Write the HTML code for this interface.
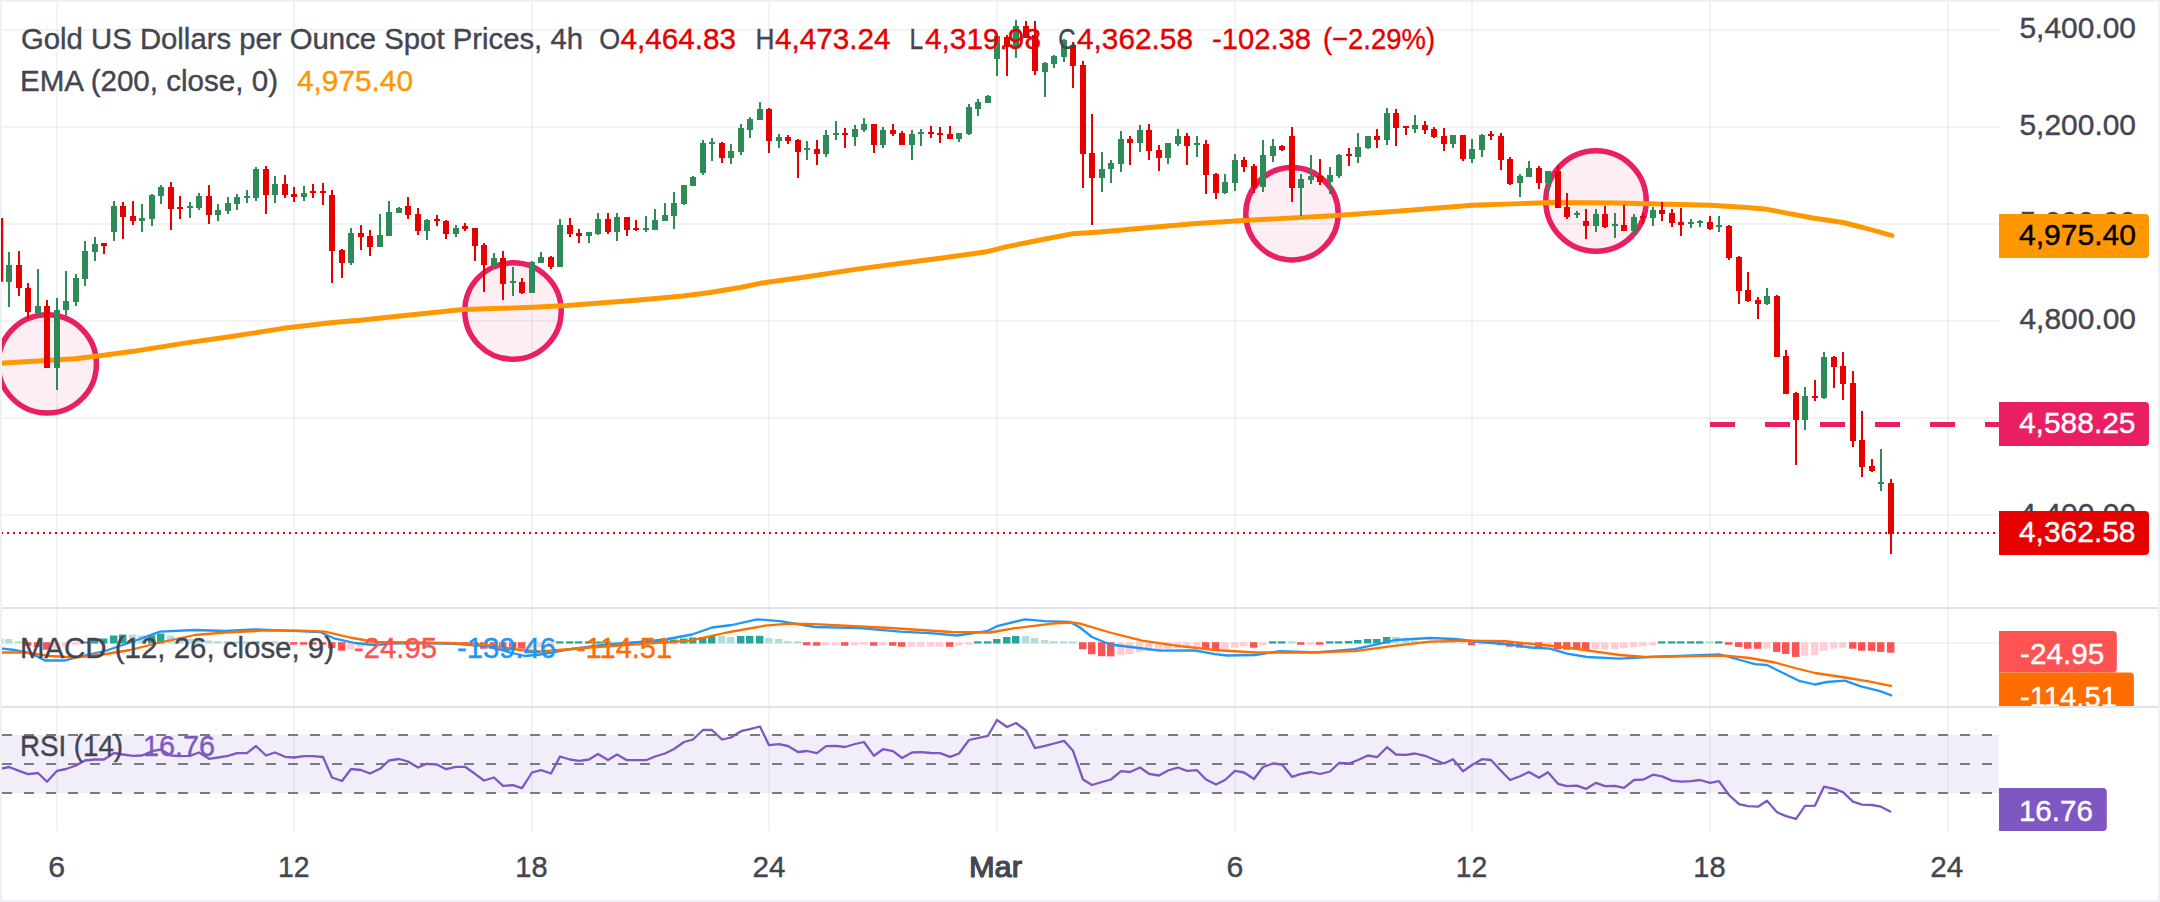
<!DOCTYPE html>
<html lang="en"><head><meta charset="utf-8"><title>Gold chart</title>
<style>html,body{margin:0;padding:0;background:#fff}svg{display:block}</style></head>
<body>
<svg width="2160" height="902" viewBox="0 0 2160 902" font-family='"Liberation Sans", "DejaVu Sans", sans-serif'>
<rect width="2160" height="902" fill="#fff"/>
<defs><clipPath id="cm"><rect x="0" y="0" width="2160" height="707"/></clipPath><clipPath id="cc"><rect x="0" y="0" width="1999" height="607"/></clipPath></defs>
<g fill="rgba(42,46,57,0.06)">
<rect x="56" y="0" width="2" height="831"/>
<rect x="293" y="0" width="2" height="831"/>
<rect x="531" y="0" width="2" height="831"/>
<rect x="768" y="0" width="2" height="831"/>
<rect x="996" y="0" width="2" height="831"/>
<rect x="1234" y="0" width="2" height="831"/>
<rect x="1471" y="0" width="2" height="831"/>
<rect x="1709" y="0" width="2" height="831"/>
<rect x="1947" y="0" width="2" height="831"/>
<rect x="0" y="29" width="1999" height="2"/>
<rect x="0" y="126" width="1999" height="2"/>
<rect x="0" y="223" width="1999" height="2"/>
<rect x="0" y="320" width="1999" height="2"/>
<rect x="0" y="417" width="1999" height="2"/>
<rect x="0" y="514" width="1999" height="2"/>
<rect x="0" y="642" width="1999" height="2"/>
</g>
<g fill="rgba(233,30,99,0.075)" stroke="#e91e63" stroke-width="5.5" clip-path="url(#cc)">
<circle cx="47.3" cy="363.9" r="49.1"/>
<circle cx="513" cy="311" r="48.2"/>
<circle cx="1292" cy="213.7" r="46.2"/>
<circle cx="1596" cy="201" r="50.2"/>
</g>
<polyline points="0,363.3 42,360.8 75,358.7 100,355.8 133,351.3 183,343.3 233,336.3 283,328.3 333,322.5 360,320.3 400,316 463,309.5 533,307.3 567,305.5 633,300.5 683,296 710,292.5 740,287.5 760,283.3 807,276.7 857,269.2 907,262.5 940,258.3 987,251.7 1007,246.7 1040,240 1073,233.7 1100,232 1133,229 1193,223.8 1243,220.5 1333,215.8 1400,211 1472,205.3 1550,202.5 1617,203 1680,204.5 1710,205.3 1747,207.5 1767,209.3 1788,213.3 1813,218 1843,222.5 1863,227.5 1892,235.5" fill="none" stroke="#ff9800" stroke-width="4.9" stroke-linejoin="round" stroke-linecap="round"/>
<line x1="1710" y1="424.5" x2="1999" y2="424.5" stroke="#e91e63" stroke-width="5" stroke-dasharray="25 30"/>
<g fill="#2e8b57">
<rect x="8" y="252" width="2" height="55"/><rect x="6" y="265" width="6" height="17"/>
<rect x="37" y="269" width="2" height="46"/><rect x="35" y="306" width="6" height="7"/>
<rect x="56" y="298" width="2" height="92"/><rect x="54" y="310" width="6" height="58"/>
<rect x="65" y="271" width="2" height="45"/><rect x="63" y="301" width="6" height="9"/>
<rect x="75" y="274" width="2" height="32"/><rect x="73" y="278" width="6" height="24"/>
<rect x="84" y="241" width="2" height="45"/><rect x="82" y="251" width="6" height="28"/>
<rect x="94" y="237" width="2" height="24"/><rect x="92" y="244" width="6" height="8"/>
<rect x="113" y="201" width="2" height="40"/><rect x="111" y="206" width="6" height="26"/>
<rect x="141" y="204" width="2" height="28"/><rect x="139" y="218" width="6" height="3"/>
<rect x="151" y="194" width="2" height="32"/><rect x="149" y="195" width="6" height="24"/>
<rect x="160" y="185" width="2" height="19"/><rect x="158" y="187" width="6" height="9"/>
<rect x="189" y="202" width="2" height="16"/><rect x="187" y="206" width="6" height="2"/>
<rect x="198" y="193" width="2" height="17"/><rect x="196" y="196" width="6" height="12"/>
<rect x="217" y="204" width="2" height="17"/><rect x="215" y="210" width="6" height="5"/>
<rect x="227" y="197" width="2" height="17"/><rect x="225" y="203" width="6" height="8"/>
<rect x="236" y="194" width="2" height="16"/><rect x="234" y="197" width="6" height="7"/>
<rect x="246" y="190" width="2" height="13"/><rect x="244" y="196" width="6" height="2"/>
<rect x="255" y="167" width="2" height="34"/><rect x="253" y="169" width="6" height="29"/>
<rect x="274" y="176" width="2" height="27"/><rect x="272" y="184" width="6" height="11"/>
<rect x="303" y="186" width="2" height="15"/><rect x="301" y="193" width="6" height="4"/>
<rect x="350" y="228" width="2" height="37"/><rect x="348" y="233" width="6" height="30"/>
<rect x="379" y="214" width="2" height="33"/><rect x="377" y="235" width="6" height="12"/>
<rect x="388" y="201" width="2" height="35"/><rect x="386" y="212" width="6" height="24"/>
<rect x="398" y="207" width="2" height="6"/><rect x="396" y="208" width="6" height="5"/>
<rect x="426" y="219" width="2" height="21"/><rect x="424" y="220" width="6" height="11"/>
<rect x="455" y="225" width="2" height="12"/><rect x="453" y="228" width="6" height="6"/>
<rect x="493" y="253" width="2" height="15"/><rect x="491" y="258" width="6" height="7"/>
<rect x="512" y="267" width="2" height="29"/><rect x="510" y="281" width="6" height="2"/>
<rect x="531" y="261" width="2" height="32"/><rect x="529" y="262" width="6" height="31"/>
<rect x="540" y="252" width="2" height="11"/><rect x="538" y="257" width="6" height="6"/>
<rect x="559" y="219" width="2" height="48"/><rect x="557" y="225" width="6" height="42"/>
<rect x="588" y="232" width="2" height="11"/><rect x="586" y="232" width="6" height="4"/>
<rect x="597" y="213" width="2" height="22"/><rect x="595" y="219" width="6" height="15"/>
<rect x="616" y="213" width="2" height="28"/><rect x="614" y="217" width="6" height="15"/>
<rect x="645" y="216" width="2" height="16"/><rect x="643" y="228" width="6" height="2"/>
<rect x="654" y="209" width="2" height="21"/><rect x="652" y="220" width="6" height="10"/>
<rect x="664" y="203" width="2" height="18"/><rect x="662" y="215" width="6" height="6"/>
<rect x="673" y="192" width="2" height="37"/><rect x="671" y="203" width="6" height="13"/>
<rect x="683" y="185" width="2" height="20"/><rect x="681" y="185" width="6" height="19"/>
<rect x="692" y="176" width="2" height="10"/><rect x="690" y="177" width="6" height="9"/>
<rect x="702" y="140" width="2" height="35"/><rect x="700" y="143" width="6" height="30"/>
<rect x="711" y="138" width="2" height="23"/><rect x="709" y="142" width="6" height="2"/>
<rect x="730" y="144" width="2" height="20"/><rect x="728" y="151" width="6" height="7"/>
<rect x="740" y="124" width="2" height="31"/><rect x="738" y="128" width="6" height="24"/>
<rect x="749" y="117" width="2" height="21"/><rect x="747" y="119" width="6" height="11"/>
<rect x="759" y="102" width="2" height="18"/><rect x="757" y="109" width="6" height="11"/>
<rect x="778" y="134" width="2" height="14"/><rect x="776" y="137" width="6" height="4"/>
<rect x="806" y="141" width="2" height="19"/><rect x="804" y="148" width="6" height="2"/>
<rect x="825" y="130" width="2" height="27"/><rect x="823" y="135" width="6" height="19"/>
<rect x="835" y="121" width="2" height="19"/><rect x="833" y="133" width="6" height="2"/>
<rect x="854" y="125" width="2" height="21"/><rect x="852" y="129" width="6" height="8"/>
<rect x="863" y="118" width="2" height="14"/><rect x="861" y="124" width="6" height="6"/>
<rect x="882" y="127" width="2" height="21"/><rect x="880" y="130" width="6" height="15"/>
<rect x="911" y="130" width="2" height="30"/><rect x="909" y="134" width="6" height="11"/>
<rect x="920" y="129" width="2" height="17"/><rect x="918" y="132" width="6" height="2"/>
<rect x="958" y="133" width="2" height="9"/><rect x="956" y="133" width="6" height="6"/>
<rect x="968" y="104" width="2" height="31"/><rect x="966" y="107" width="6" height="27"/>
<rect x="977" y="99" width="2" height="17"/><rect x="975" y="102" width="6" height="7"/>
<rect x="987" y="95" width="2" height="8"/><rect x="985" y="96" width="6" height="7"/>
<rect x="996" y="33" width="2" height="43"/><rect x="994" y="36" width="6" height="23"/>
<rect x="1015" y="20" width="2" height="38"/><rect x="1013" y="26" width="6" height="21"/>
<rect x="1044" y="62" width="2" height="35"/><rect x="1042" y="63" width="6" height="9"/>
<rect x="1053" y="55" width="2" height="13"/><rect x="1051" y="56" width="6" height="8"/>
<rect x="1063" y="39" width="2" height="23"/><rect x="1061" y="40" width="6" height="17"/>
<rect x="1101" y="152" width="2" height="40"/><rect x="1099" y="169" width="6" height="9"/>
<rect x="1110" y="160" width="2" height="23"/><rect x="1108" y="163" width="6" height="6"/>
<rect x="1120" y="131" width="2" height="41"/><rect x="1118" y="139" width="6" height="25"/>
<rect x="1139" y="125" width="2" height="27"/><rect x="1137" y="130" width="6" height="13"/>
<rect x="1167" y="143" width="2" height="21"/><rect x="1165" y="143" width="6" height="15"/>
<rect x="1177" y="129" width="2" height="17"/><rect x="1175" y="136" width="6" height="8"/>
<rect x="1196" y="136" width="2" height="21"/><rect x="1194" y="143" width="6" height="2"/>
<rect x="1224" y="174" width="2" height="20"/><rect x="1222" y="182" width="6" height="11"/>
<rect x="1234" y="154" width="2" height="37"/><rect x="1232" y="160" width="6" height="23"/>
<rect x="1262" y="140" width="2" height="52"/><rect x="1260" y="155" width="6" height="32"/>
<rect x="1272" y="139" width="2" height="23"/><rect x="1270" y="146" width="6" height="10"/>
<rect x="1300" y="174" width="2" height="42"/><rect x="1298" y="179" width="6" height="9"/>
<rect x="1310" y="155" width="2" height="29"/><rect x="1308" y="176" width="6" height="4"/>
<rect x="1329" y="167" width="2" height="27"/><rect x="1327" y="175" width="6" height="7"/>
<rect x="1338" y="154" width="2" height="24"/><rect x="1336" y="155" width="6" height="21"/>
<rect x="1357" y="133" width="2" height="30"/><rect x="1355" y="147" width="6" height="10"/>
<rect x="1367" y="136" width="2" height="13"/><rect x="1365" y="136" width="6" height="12"/>
<rect x="1386" y="108" width="2" height="37"/><rect x="1384" y="113" width="6" height="27"/>
<rect x="1414" y="115" width="2" height="18"/><rect x="1412" y="125" width="6" height="4"/>
<rect x="1452" y="135" width="2" height="13"/><rect x="1450" y="135" width="6" height="9"/>
<rect x="1471" y="139" width="2" height="24"/><rect x="1469" y="149" width="6" height="10"/>
<rect x="1481" y="134" width="2" height="23"/><rect x="1479" y="135" width="6" height="15"/>
<rect x="1519" y="174" width="2" height="23"/><rect x="1517" y="176" width="6" height="7"/>
<rect x="1528" y="161" width="2" height="16"/><rect x="1526" y="168" width="6" height="9"/>
<rect x="1547" y="171" width="2" height="23"/><rect x="1545" y="171" width="6" height="12"/>
<rect x="1576" y="211" width="2" height="7"/><rect x="1574" y="213" width="6" height="2"/>
<rect x="1595" y="209" width="2" height="23"/><rect x="1593" y="214" width="6" height="12"/>
<rect x="1614" y="213" width="2" height="25"/><rect x="1612" y="224" width="6" height="2"/>
<rect x="1633" y="214" width="2" height="22"/><rect x="1631" y="217" width="6" height="14"/>
<rect x="1652" y="207" width="2" height="19"/><rect x="1650" y="210" width="6" height="8"/>
<rect x="1690" y="219" width="2" height="9"/><rect x="1688" y="222" width="6" height="2"/>
<rect x="1699" y="220" width="2" height="7"/><rect x="1697" y="221" width="6" height="2"/>
<rect x="1718" y="216" width="2" height="16"/><rect x="1716" y="225" width="6" height="2"/>
<rect x="1766" y="288" width="2" height="17"/><rect x="1764" y="296" width="6" height="8"/>
<rect x="1804" y="387" width="2" height="43"/><rect x="1802" y="396" width="6" height="24"/>
<rect x="1823" y="352" width="2" height="47"/><rect x="1821" y="357" width="6" height="41"/>
<rect x="1880" y="449" width="2" height="42"/><rect x="1878" y="482" width="6" height="2"/>
</g>
<g fill="#e60000">
<rect x="18" y="251" width="2" height="45"/><rect x="16" y="265" width="6" height="23"/>
<rect x="27" y="283" width="2" height="36"/><rect x="25" y="288" width="6" height="24"/>
<rect x="46" y="300" width="2" height="68"/><rect x="44" y="306" width="6" height="62"/>
<rect x="103" y="243" width="2" height="11"/><rect x="101" y="243" width="6" height="3"/>
<rect x="122" y="202" width="2" height="37"/><rect x="120" y="206" width="6" height="11"/>
<rect x="132" y="201" width="2" height="24"/><rect x="130" y="216" width="6" height="5"/>
<rect x="170" y="182" width="2" height="48"/><rect x="168" y="187" width="6" height="22"/>
<rect x="179" y="196" width="2" height="23"/><rect x="177" y="207" width="6" height="2"/>
<rect x="208" y="185" width="2" height="39"/><rect x="206" y="196" width="6" height="19"/>
<rect x="265" y="166" width="2" height="48"/><rect x="263" y="169" width="6" height="26"/>
<rect x="284" y="175" width="2" height="23"/><rect x="282" y="184" width="6" height="11"/>
<rect x="293" y="187" width="2" height="15"/><rect x="291" y="194" width="6" height="3"/>
<rect x="312" y="184" width="2" height="14"/><rect x="310" y="191" width="6" height="2"/>
<rect x="322" y="183" width="2" height="22"/><rect x="320" y="191" width="6" height="2"/>
<rect x="331" y="190" width="2" height="93"/><rect x="329" y="195" width="6" height="56"/>
<rect x="341" y="249" width="2" height="29"/><rect x="339" y="250" width="6" height="13"/>
<rect x="360" y="225" width="2" height="25"/><rect x="358" y="233" width="6" height="4"/>
<rect x="369" y="230" width="2" height="26"/><rect x="367" y="236" width="6" height="11"/>
<rect x="407" y="197" width="2" height="22"/><rect x="405" y="206" width="6" height="9"/>
<rect x="417" y="208" width="2" height="27"/><rect x="415" y="214" width="6" height="17"/>
<rect x="436" y="215" width="2" height="11"/><rect x="434" y="219" width="6" height="2"/>
<rect x="445" y="220" width="2" height="19"/><rect x="443" y="221" width="6" height="13"/>
<rect x="464" y="223" width="2" height="8"/><rect x="462" y="226" width="6" height="3"/>
<rect x="474" y="228" width="2" height="33"/><rect x="472" y="228" width="6" height="18"/>
<rect x="483" y="243" width="2" height="49"/><rect x="481" y="245" width="6" height="20"/>
<rect x="502" y="251" width="2" height="49"/><rect x="500" y="258" width="6" height="26"/>
<rect x="521" y="278" width="2" height="16"/><rect x="519" y="282" width="6" height="11"/>
<rect x="550" y="256" width="2" height="13"/><rect x="548" y="257" width="6" height="10"/>
<rect x="569" y="218" width="2" height="19"/><rect x="567" y="225" width="6" height="9"/>
<rect x="578" y="229" width="2" height="14"/><rect x="576" y="233" width="6" height="3"/>
<rect x="607" y="213" width="2" height="21"/><rect x="605" y="219" width="6" height="13"/>
<rect x="626" y="217" width="2" height="19"/><rect x="624" y="217" width="6" height="13"/>
<rect x="635" y="220" width="2" height="11"/><rect x="633" y="228" width="6" height="2"/>
<rect x="721" y="142" width="2" height="21"/><rect x="719" y="143" width="6" height="15"/>
<rect x="768" y="108" width="2" height="45"/><rect x="766" y="109" width="6" height="32"/>
<rect x="787" y="135" width="2" height="9"/><rect x="785" y="137" width="6" height="4"/>
<rect x="797" y="139" width="2" height="39"/><rect x="795" y="140" width="6" height="12"/>
<rect x="816" y="140" width="2" height="25"/><rect x="814" y="149" width="6" height="5"/>
<rect x="844" y="128" width="2" height="20"/><rect x="842" y="133" width="6" height="2"/>
<rect x="873" y="124" width="2" height="29"/><rect x="871" y="124" width="6" height="21"/>
<rect x="892" y="124" width="2" height="12"/><rect x="890" y="130" width="6" height="4"/>
<rect x="901" y="131" width="2" height="14"/><rect x="899" y="133" width="6" height="12"/>
<rect x="930" y="126" width="2" height="12"/><rect x="928" y="132" width="6" height="2"/>
<rect x="939" y="127" width="2" height="16"/><rect x="937" y="133" width="6" height="2"/>
<rect x="949" y="126" width="2" height="13"/><rect x="947" y="134" width="6" height="5"/>
<rect x="1006" y="35" width="2" height="41"/><rect x="1004" y="37" width="6" height="10"/>
<rect x="1025" y="21" width="2" height="17"/><rect x="1023" y="26" width="6" height="12"/>
<rect x="1034" y="21" width="2" height="54"/><rect x="1032" y="35" width="6" height="36"/>
<rect x="1072" y="42" width="2" height="46"/><rect x="1070" y="45" width="6" height="21"/>
<rect x="1082" y="61" width="2" height="127"/><rect x="1080" y="65" width="6" height="89"/>
<rect x="1091" y="114" width="2" height="111"/><rect x="1089" y="153" width="6" height="25"/>
<rect x="1129" y="136" width="2" height="29"/><rect x="1127" y="139" width="6" height="4"/>
<rect x="1148" y="124" width="2" height="36"/><rect x="1146" y="130" width="6" height="21"/>
<rect x="1158" y="145" width="2" height="26"/><rect x="1156" y="150" width="6" height="8"/>
<rect x="1186" y="133" width="2" height="32"/><rect x="1184" y="136" width="6" height="10"/>
<rect x="1205" y="140" width="2" height="54"/><rect x="1203" y="144" width="6" height="31"/>
<rect x="1215" y="173" width="2" height="26"/><rect x="1213" y="174" width="6" height="19"/>
<rect x="1243" y="157" width="2" height="15"/><rect x="1241" y="160" width="6" height="7"/>
<rect x="1253" y="164" width="2" height="29"/><rect x="1251" y="166" width="6" height="21"/>
<rect x="1281" y="145" width="2" height="6"/><rect x="1279" y="146" width="6" height="4"/>
<rect x="1291" y="127" width="2" height="75"/><rect x="1289" y="136" width="6" height="52"/>
<rect x="1319" y="159" width="2" height="26"/><rect x="1317" y="176" width="6" height="6"/>
<rect x="1348" y="148" width="2" height="18"/><rect x="1346" y="154" width="6" height="2"/>
<rect x="1376" y="129" width="2" height="19"/><rect x="1374" y="136" width="6" height="4"/>
<rect x="1395" y="109" width="2" height="37"/><rect x="1393" y="113" width="6" height="15"/>
<rect x="1405" y="126" width="2" height="9"/><rect x="1403" y="126" width="6" height="2"/>
<rect x="1424" y="121" width="2" height="13"/><rect x="1422" y="125" width="6" height="5"/>
<rect x="1433" y="127" width="2" height="11"/><rect x="1431" y="129" width="6" height="8"/>
<rect x="1443" y="128" width="2" height="23"/><rect x="1441" y="136" width="6" height="8"/>
<rect x="1462" y="135" width="2" height="26"/><rect x="1460" y="135" width="6" height="24"/>
<rect x="1490" y="131" width="2" height="9"/><rect x="1488" y="134" width="6" height="2"/>
<rect x="1500" y="133" width="2" height="37"/><rect x="1498" y="136" width="6" height="24"/>
<rect x="1509" y="157" width="2" height="28"/><rect x="1507" y="159" width="6" height="25"/>
<rect x="1538" y="166" width="2" height="23"/><rect x="1536" y="168" width="6" height="15"/>
<rect x="1557" y="165" width="2" height="43"/><rect x="1555" y="171" width="6" height="37"/>
<rect x="1566" y="193" width="2" height="26"/><rect x="1564" y="207" width="6" height="10"/>
<rect x="1585" y="209" width="2" height="30"/><rect x="1583" y="221" width="6" height="5"/>
<rect x="1604" y="206" width="2" height="22"/><rect x="1602" y="214" width="6" height="13"/>
<rect x="1623" y="205" width="2" height="26"/><rect x="1621" y="225" width="6" height="6"/>
<rect x="1642" y="213" width="2" height="11"/><rect x="1640" y="216" width="6" height="2"/>
<rect x="1661" y="202" width="2" height="19"/><rect x="1659" y="210" width="6" height="4"/>
<rect x="1671" y="209" width="2" height="18"/><rect x="1669" y="213" width="6" height="10"/>
<rect x="1680" y="208" width="2" height="28"/><rect x="1678" y="222" width="6" height="3"/>
<rect x="1709" y="216" width="2" height="14"/><rect x="1707" y="222" width="6" height="7"/>
<rect x="1728" y="225" width="2" height="35"/><rect x="1726" y="226" width="6" height="32"/>
<rect x="1738" y="256" width="2" height="48"/><rect x="1736" y="257" width="6" height="34"/>
<rect x="1747" y="272" width="2" height="30"/><rect x="1745" y="290" width="6" height="11"/>
<rect x="1757" y="297" width="2" height="22"/><rect x="1755" y="300" width="6" height="4"/>
<rect x="1776" y="295" width="2" height="62"/><rect x="1774" y="296" width="6" height="61"/>
<rect x="1785" y="350" width="2" height="44"/><rect x="1783" y="356" width="6" height="38"/>
<rect x="1795" y="392" width="2" height="73"/><rect x="1793" y="393" width="6" height="27"/>
<rect x="1814" y="380" width="2" height="21"/><rect x="1812" y="396" width="6" height="2"/>
<rect x="1833" y="356" width="2" height="32"/><rect x="1831" y="357" width="6" height="10"/>
<rect x="1842" y="352" width="2" height="48"/><rect x="1840" y="366" width="6" height="18"/>
<rect x="1852" y="371" width="2" height="76"/><rect x="1850" y="383" width="6" height="58"/>
<rect x="1861" y="411" width="2" height="66"/><rect x="1859" y="440" width="6" height="27"/>
<rect x="1871" y="459" width="2" height="13"/><rect x="1869" y="466" width="6" height="5"/>
<rect x="1890" y="479" width="2" height="75"/><rect x="1888" y="483" width="6" height="51"/>
</g>
<line x1="1" y1="533" x2="1996" y2="533" stroke="#e60000" stroke-width="2" stroke-dasharray="2 4"/>
<rect x="0" y="607" width="2160" height="2" fill="#e0e3eb"/>
<rect x="0" y="706" width="2160" height="2" fill="#e0e3eb"/>
<rect x="-4" y="638.5" width="7.4" height="5.0" fill="#b2dfdb"/>
<rect x="5" y="639.0" width="7.4" height="4.5" fill="#b2dfdb"/>
<rect x="15" y="641.3" width="7.4" height="2.2" fill="#b2dfdb"/>
<rect x="24" y="642.2" width="7.4" height="3.5" fill="#ff5252"/>
<rect x="34" y="642.2" width="7.4" height="5.0" fill="#ff5252"/>
<rect x="43" y="642.2" width="7.4" height="7.5" fill="#ff5252"/>
<rect x="53" y="642.2" width="7.4" height="6.5" fill="#ffcdd2"/>
<rect x="62" y="642.2" width="7.4" height="4.5" fill="#ffcdd2"/>
<rect x="72" y="642.2" width="7.4" height="2.5" fill="#ffcdd2"/>
<rect x="81" y="641.5" width="7.4" height="2.0" fill="#26a69a"/>
<rect x="91" y="640.0" width="7.4" height="3.5" fill="#26a69a"/>
<rect x="100" y="638.5" width="7.4" height="5.0" fill="#26a69a"/>
<rect x="110" y="635.5" width="7.4" height="8.0" fill="#26a69a"/>
<rect x="119" y="634.5" width="7.4" height="9.0" fill="#26a69a"/>
<rect x="129" y="634.5" width="7.4" height="9.0" fill="#b2dfdb"/>
<rect x="138" y="635.5" width="7.4" height="8.0" fill="#b2dfdb"/>
<rect x="148" y="635.3" width="7.4" height="8.2" fill="#26a69a"/>
<rect x="157" y="633.5" width="7.4" height="10.0" fill="#26a69a"/>
<rect x="167" y="635.5" width="7.4" height="8.0" fill="#b2dfdb"/>
<rect x="176" y="638.0" width="7.4" height="5.5" fill="#b2dfdb"/>
<rect x="186" y="638.5" width="7.4" height="5.0" fill="#b2dfdb"/>
<rect x="195" y="638.5" width="7.4" height="5.0" fill="#b2dfdb"/>
<rect x="205" y="640.5" width="7.4" height="3.0" fill="#b2dfdb"/>
<rect x="214" y="641.0" width="7.4" height="2.5" fill="#b2dfdb"/>
<rect x="224" y="641.3" width="7.4" height="2.2" fill="#b2dfdb"/>
<rect x="233" y="641.3" width="7.4" height="2.2" fill="#b2dfdb"/>
<rect x="243" y="641.3" width="7.4" height="2.2" fill="#b2dfdb"/>
<rect x="252" y="641.5" width="7.4" height="2.0" fill="#26a69a"/>
<rect x="262" y="641.3" width="7.4" height="2.2" fill="#b2dfdb"/>
<rect x="271" y="641.3" width="7.4" height="2.2" fill="#b2dfdb"/>
<rect x="281" y="641.3" width="7.4" height="2.2" fill="#b2dfdb"/>
<rect x="290" y="642.2" width="7.4" height="2.5" fill="#ff5252"/>
<rect x="300" y="642.2" width="7.4" height="2.5" fill="#ff5252"/>
<rect x="309" y="642.2" width="7.4" height="2.5" fill="#ff5252"/>
<rect x="319" y="642.2" width="7.4" height="2.5" fill="#ff5252"/>
<rect x="328" y="642.2" width="7.4" height="6.0" fill="#ff5252"/>
<rect x="338" y="642.2" width="7.4" height="8.5" fill="#ff5252"/>
<rect x="347" y="642.2" width="7.4" height="7.5" fill="#ffcdd2"/>
<rect x="357" y="642.2" width="7.4" height="5.0" fill="#ffcdd2"/>
<rect x="366" y="642.2" width="7.4" height="3.5" fill="#ffcdd2"/>
<rect x="376" y="642.2" width="7.4" height="2.5" fill="#ffcdd2"/>
<rect x="385" y="642.2" width="7.4" height="2.5" fill="#ffcdd2"/>
<rect x="395" y="642.2" width="7.4" height="2.5" fill="#ffcdd2"/>
<rect x="404" y="642.2" width="7.4" height="2.5" fill="#ffcdd2"/>
<rect x="414" y="642.2" width="7.4" height="2.5" fill="#ffcdd2"/>
<rect x="423" y="642.2" width="7.4" height="2.5" fill="#ff5252"/>
<rect x="433" y="642.2" width="7.4" height="2.5" fill="#ffcdd2"/>
<rect x="442" y="642.2" width="7.4" height="2.5" fill="#ff5252"/>
<rect x="452" y="642.2" width="7.4" height="2.5" fill="#ffcdd2"/>
<rect x="461" y="642.2" width="7.4" height="2.5" fill="#ff5252"/>
<rect x="471" y="642.2" width="7.4" height="4.0" fill="#ff5252"/>
<rect x="480" y="642.2" width="7.4" height="6.5" fill="#ff5252"/>
<rect x="490" y="642.2" width="7.4" height="6.5" fill="#ff5252"/>
<rect x="499" y="642.2" width="7.4" height="6.5" fill="#ff5252"/>
<rect x="509" y="642.2" width="7.4" height="6.5" fill="#ff5252"/>
<rect x="518" y="642.2" width="7.4" height="6.5" fill="#ff5252"/>
<rect x="528" y="642.2" width="7.4" height="6.0" fill="#ffcdd2"/>
<rect x="537" y="642.2" width="7.4" height="5.0" fill="#ffcdd2"/>
<rect x="547" y="642.2" width="7.4" height="3.0" fill="#ffcdd2"/>
<rect x="556" y="641.3" width="7.4" height="2.2" fill="#26a69a"/>
<rect x="566" y="641.3" width="7.4" height="2.2" fill="#26a69a"/>
<rect x="575" y="641.3" width="7.4" height="2.2" fill="#26a69a"/>
<rect x="585" y="641.3" width="7.4" height="2.2" fill="#26a69a"/>
<rect x="594" y="641.5" width="7.4" height="2.0" fill="#26a69a"/>
<rect x="604" y="641.5" width="7.4" height="2.0" fill="#26a69a"/>
<rect x="613" y="641.5" width="7.4" height="2.0" fill="#b2dfdb"/>
<rect x="623" y="641.5" width="7.4" height="2.0" fill="#b2dfdb"/>
<rect x="632" y="641.5" width="7.4" height="2.0" fill="#26a69a"/>
<rect x="642" y="641.0" width="7.4" height="2.5" fill="#26a69a"/>
<rect x="651" y="640.5" width="7.4" height="3.0" fill="#26a69a"/>
<rect x="661" y="640.0" width="7.4" height="3.5" fill="#26a69a"/>
<rect x="670" y="639.5" width="7.4" height="4.0" fill="#26a69a"/>
<rect x="680" y="638.5" width="7.4" height="5.0" fill="#26a69a"/>
<rect x="689" y="637.5" width="7.4" height="6.0" fill="#26a69a"/>
<rect x="699" y="637.0" width="7.4" height="6.5" fill="#26a69a"/>
<rect x="708" y="636.0" width="7.4" height="7.5" fill="#26a69a"/>
<rect x="718" y="636.0" width="7.4" height="7.5" fill="#b2dfdb"/>
<rect x="727" y="637.0" width="7.4" height="6.5" fill="#b2dfdb"/>
<rect x="737" y="636.0" width="7.4" height="7.5" fill="#26a69a"/>
<rect x="746" y="635.9" width="7.4" height="7.6" fill="#26a69a"/>
<rect x="756" y="635.8" width="7.4" height="7.7" fill="#26a69a"/>
<rect x="765" y="638.0" width="7.4" height="5.5" fill="#b2dfdb"/>
<rect x="775" y="639.0" width="7.4" height="4.5" fill="#b2dfdb"/>
<rect x="784" y="641.0" width="7.4" height="2.5" fill="#b2dfdb"/>
<rect x="794" y="641.3" width="7.4" height="2.2" fill="#b2dfdb"/>
<rect x="803" y="642.2" width="7.4" height="3.0" fill="#ff5252"/>
<rect x="813" y="642.2" width="7.4" height="3.5" fill="#ff5252"/>
<rect x="822" y="642.2" width="7.4" height="3.5" fill="#ffcdd2"/>
<rect x="832" y="642.2" width="7.4" height="3.3" fill="#ffcdd2"/>
<rect x="841" y="642.2" width="7.4" height="3.5" fill="#ff5252"/>
<rect x="851" y="642.2" width="7.4" height="3.3" fill="#ffcdd2"/>
<rect x="860" y="642.2" width="7.4" height="2.5" fill="#ffcdd2"/>
<rect x="870" y="642.2" width="7.4" height="3.5" fill="#ff5252"/>
<rect x="879" y="642.2" width="7.4" height="3.3" fill="#ffcdd2"/>
<rect x="889" y="642.2" width="7.4" height="3.5" fill="#ff5252"/>
<rect x="898" y="642.2" width="7.4" height="4.5" fill="#ff5252"/>
<rect x="908" y="642.2" width="7.4" height="4.5" fill="#ffcdd2"/>
<rect x="917" y="642.2" width="7.4" height="4.5" fill="#ffcdd2"/>
<rect x="927" y="642.2" width="7.4" height="4.5" fill="#ffcdd2"/>
<rect x="936" y="642.2" width="7.4" height="4.5" fill="#ffcdd2"/>
<rect x="946" y="642.2" width="7.4" height="4.6" fill="#ff5252"/>
<rect x="955" y="642.2" width="7.4" height="3.5" fill="#ffcdd2"/>
<rect x="965" y="642.2" width="7.4" height="2.5" fill="#ffcdd2"/>
<rect x="974" y="641.3" width="7.4" height="2.2" fill="#26a69a"/>
<rect x="984" y="641.3" width="7.4" height="2.2" fill="#26a69a"/>
<rect x="993" y="639.0" width="7.4" height="4.5" fill="#26a69a"/>
<rect x="1003" y="637.0" width="7.4" height="6.5" fill="#26a69a"/>
<rect x="1012" y="636.0" width="7.4" height="7.5" fill="#26a69a"/>
<rect x="1022" y="636.0" width="7.4" height="7.5" fill="#b2dfdb"/>
<rect x="1031" y="638.0" width="7.4" height="5.5" fill="#b2dfdb"/>
<rect x="1041" y="640.0" width="7.4" height="3.5" fill="#b2dfdb"/>
<rect x="1050" y="641.0" width="7.4" height="2.5" fill="#b2dfdb"/>
<rect x="1060" y="641.3" width="7.4" height="2.2" fill="#b2dfdb"/>
<rect x="1069" y="641.3" width="7.4" height="2.2" fill="#b2dfdb"/>
<rect x="1079" y="642.2" width="7.4" height="7.0" fill="#ff5252"/>
<rect x="1088" y="642.2" width="7.4" height="12.0" fill="#ff5252"/>
<rect x="1098" y="642.2" width="7.4" height="14.0" fill="#ff5252"/>
<rect x="1107" y="642.2" width="7.4" height="14.2" fill="#ff5252"/>
<rect x="1117" y="642.2" width="7.4" height="13.0" fill="#ffcdd2"/>
<rect x="1126" y="642.2" width="7.4" height="12.0" fill="#ffcdd2"/>
<rect x="1136" y="642.2" width="7.4" height="10.0" fill="#ffcdd2"/>
<rect x="1145" y="642.2" width="7.4" height="9.0" fill="#ffcdd2"/>
<rect x="1155" y="642.2" width="7.4" height="7.5" fill="#ffcdd2"/>
<rect x="1164" y="642.2" width="7.4" height="7.0" fill="#ffcdd2"/>
<rect x="1174" y="642.2" width="7.4" height="6.0" fill="#ffcdd2"/>
<rect x="1183" y="642.2" width="7.4" height="5.5" fill="#ffcdd2"/>
<rect x="1193" y="642.2" width="7.4" height="5.0" fill="#ffcdd2"/>
<rect x="1202" y="642.2" width="7.4" height="6.5" fill="#ff5252"/>
<rect x="1212" y="642.2" width="7.4" height="7.0" fill="#ff5252"/>
<rect x="1221" y="642.2" width="7.4" height="7.0" fill="#ffcdd2"/>
<rect x="1231" y="642.2" width="7.4" height="5.5" fill="#ffcdd2"/>
<rect x="1240" y="642.2" width="7.4" height="4.0" fill="#ffcdd2"/>
<rect x="1250" y="642.2" width="7.4" height="5.5" fill="#ff5252"/>
<rect x="1259" y="642.2" width="7.4" height="3.0" fill="#ffcdd2"/>
<rect x="1269" y="641.3" width="7.4" height="2.2" fill="#26a69a"/>
<rect x="1278" y="641.3" width="7.4" height="2.2" fill="#26a69a"/>
<rect x="1288" y="641.3" width="7.4" height="2.2" fill="#b2dfdb"/>
<rect x="1297" y="642.2" width="7.4" height="2.5" fill="#ff5252"/>
<rect x="1307" y="642.2" width="7.4" height="2.5" fill="#ffcdd2"/>
<rect x="1316" y="642.2" width="7.4" height="2.5" fill="#ff5252"/>
<rect x="1326" y="641.3" width="7.4" height="2.2" fill="#26a69a"/>
<rect x="1335" y="641.3" width="7.4" height="2.2" fill="#26a69a"/>
<rect x="1345" y="641.0" width="7.4" height="2.5" fill="#26a69a"/>
<rect x="1354" y="640.0" width="7.4" height="3.5" fill="#26a69a"/>
<rect x="1364" y="639.0" width="7.4" height="4.5" fill="#26a69a"/>
<rect x="1373" y="638.9" width="7.4" height="4.6" fill="#26a69a"/>
<rect x="1383" y="637.0" width="7.4" height="6.5" fill="#26a69a"/>
<rect x="1392" y="637.0" width="7.4" height="6.5" fill="#b2dfdb"/>
<rect x="1402" y="638.5" width="7.4" height="5.0" fill="#b2dfdb"/>
<rect x="1411" y="640.5" width="7.4" height="3.0" fill="#b2dfdb"/>
<rect x="1421" y="641.5" width="7.4" height="2.0" fill="#b2dfdb"/>
<rect x="1430" y="641.3" width="7.4" height="2.2" fill="#b2dfdb"/>
<rect x="1440" y="641.3" width="7.4" height="2.2" fill="#b2dfdb"/>
<rect x="1449" y="641.3" width="7.4" height="2.2" fill="#b2dfdb"/>
<rect x="1459" y="641.3" width="7.4" height="2.2" fill="#b2dfdb"/>
<rect x="1468" y="642.2" width="7.4" height="3.0" fill="#ff5252"/>
<rect x="1478" y="642.2" width="7.4" height="2.5" fill="#ffcdd2"/>
<rect x="1487" y="641.3" width="7.4" height="2.2" fill="#26a69a"/>
<rect x="1497" y="642.2" width="7.4" height="3.0" fill="#ff5252"/>
<rect x="1506" y="642.2" width="7.4" height="4.5" fill="#ff5252"/>
<rect x="1516" y="642.2" width="7.4" height="5.5" fill="#ff5252"/>
<rect x="1525" y="642.2" width="7.4" height="5.0" fill="#ffcdd2"/>
<rect x="1535" y="642.2" width="7.4" height="5.2" fill="#ff5252"/>
<rect x="1544" y="642.2" width="7.4" height="4.5" fill="#ffcdd2"/>
<rect x="1554" y="642.2" width="7.4" height="7.0" fill="#ff5252"/>
<rect x="1563" y="642.2" width="7.4" height="7.5" fill="#ff5252"/>
<rect x="1573" y="642.2" width="7.4" height="7.6" fill="#ff5252"/>
<rect x="1582" y="642.2" width="7.4" height="8.0" fill="#ff5252"/>
<rect x="1592" y="642.2" width="7.4" height="7.0" fill="#ffcdd2"/>
<rect x="1601" y="642.2" width="7.4" height="7.0" fill="#ffcdd2"/>
<rect x="1611" y="642.2" width="7.4" height="7.0" fill="#ffcdd2"/>
<rect x="1620" y="642.2" width="7.4" height="6.0" fill="#ffcdd2"/>
<rect x="1630" y="642.2" width="7.4" height="5.0" fill="#ffcdd2"/>
<rect x="1639" y="642.2" width="7.4" height="4.0" fill="#ffcdd2"/>
<rect x="1649" y="642.2" width="7.4" height="3.0" fill="#ffcdd2"/>
<rect x="1658" y="641.3" width="7.4" height="2.2" fill="#26a69a"/>
<rect x="1668" y="641.3" width="7.4" height="2.2" fill="#26a69a"/>
<rect x="1677" y="641.3" width="7.4" height="2.2" fill="#26a69a"/>
<rect x="1687" y="641.3" width="7.4" height="2.2" fill="#26a69a"/>
<rect x="1696" y="641.3" width="7.4" height="2.2" fill="#26a69a"/>
<rect x="1706" y="641.3" width="7.4" height="2.2" fill="#b2dfdb"/>
<rect x="1715" y="641.3" width="7.4" height="2.2" fill="#26a69a"/>
<rect x="1725" y="642.2" width="7.4" height="2.5" fill="#ff5252"/>
<rect x="1735" y="642.2" width="7.4" height="4.7" fill="#ff5252"/>
<rect x="1744" y="642.2" width="7.4" height="6.5" fill="#ff5252"/>
<rect x="1754" y="642.2" width="7.4" height="6.6" fill="#ff5252"/>
<rect x="1763" y="642.2" width="7.4" height="6.5" fill="#ffcdd2"/>
<rect x="1773" y="642.2" width="7.4" height="9.7" fill="#ff5252"/>
<rect x="1782" y="642.2" width="7.4" height="11.7" fill="#ff5252"/>
<rect x="1792" y="642.2" width="7.4" height="14.7" fill="#ff5252"/>
<rect x="1801" y="642.2" width="7.4" height="13.5" fill="#ffcdd2"/>
<rect x="1811" y="642.2" width="7.4" height="13.0" fill="#ffcdd2"/>
<rect x="1820" y="642.2" width="7.4" height="8.5" fill="#ffcdd2"/>
<rect x="1830" y="642.2" width="7.4" height="6.5" fill="#ffcdd2"/>
<rect x="1839" y="642.2" width="7.4" height="5.5" fill="#ffcdd2"/>
<rect x="1849" y="642.2" width="7.4" height="6.5" fill="#ff5252"/>
<rect x="1858" y="642.2" width="7.4" height="8.5" fill="#ff5252"/>
<rect x="1868" y="642.2" width="7.4" height="8.6" fill="#ff5252"/>
<rect x="1877" y="642.2" width="7.4" height="9.7" fill="#ff5252"/>
<rect x="1887" y="642.2" width="7.4" height="10.5" fill="#ff5252"/>
<polyline points="0,648.3 15,650 32,653.7 45,660.5 65,660.5 82,656 105,651 130,642.5 160,631.7 195,630 225,631 255,629.5 287,630.7 320,632 335,638.7 355,643 375,645 400,643 450,643.7 487,646 510,652.5 525,656 540,654.5 565,650 602,645 640,642 665,639.5 692,634.5 712,627.5 732,625 757,619.3 780,621.2 815,627 860,628.2 900,631.7 930,633.2 957,635.5 987,631.2 997,626.2 1025,619.3 1045,621.2 1070,622 1080,627.5 1092,637 1110,644.5 1135,647.5 1160,650.7 1195,650.5 1215,654.2 1227,655.5 1255,655 1280,651.2 1317,652.5 1355,649.2 1380,643.7 1395,640 1430,638 1455,639 1480,642 1510,644.5 1530,647.5 1550,648.7 1567,653.7 1587,657 1620,658.7 1657,656.7 1720,654.5 1740,660 1755,664.2 1767,665 1782,672.5 1800,681.2 1815,684.5 1827,682 1845,680.7 1860,686.2 1880,691.2 1892,695.7" fill="none" stroke="#2196f3" stroke-width="2.3" stroke-linejoin="round"/>
<polyline points="0,652.5 25,652.5 50,656 75,657.5 100,655 130,650 160,642.5 195,635 225,632.5 262,630.7 300,630.7 325,631.7 350,637.5 375,642 412,642.5 450,643 487,645 520,650 540,651.5 590,647.5 640,644.2 690,640.7 727,632.5 765,625.7 790,623.7 815,624.2 890,628 952,632 990,632.5 1015,628.2 1052,623.7 1072,622.5 1080,623.7 1110,632.5 1142,640.7 1180,646.2 1215,650 1255,652.5 1305,652.5 1355,651.2 1392,646.2 1430,641.7 1467,640.7 1505,641.2 1530,643.7 1567,647.5 1592,651.2 1620,655 1645,657 1695,656.2 1725,655.7 1750,658 1775,662.5 1795,668 1815,673 1845,677.5 1870,681.7 1892,686.2" fill="none" stroke="#ff6d00" stroke-width="2.3" stroke-linejoin="round"/>
<rect x="0" y="735" width="1999" height="58" fill="#f2eef9"/>
<g fill="rgba(42,46,57,0.06)">
<rect x="56" y="735" width="2" height="58"/>
<rect x="293" y="735" width="2" height="58"/>
<rect x="531" y="735" width="2" height="58"/>
<rect x="768" y="735" width="2" height="58"/>
<rect x="996" y="735" width="2" height="58"/>
<rect x="1234" y="735" width="2" height="58"/>
<rect x="1471" y="735" width="2" height="58"/>
<rect x="1709" y="735" width="2" height="58"/>
<rect x="1947" y="735" width="2" height="58"/>
</g>
<line x1="2" y1="735" x2="1992" y2="735" stroke="#787b86" stroke-width="2" stroke-dasharray="10 12"/>
<line x1="2" y1="764" x2="1992" y2="764" stroke="#787b86" stroke-width="2" stroke-dasharray="10 12"/>
<line x1="2" y1="793" x2="1992" y2="793" stroke="#787b86" stroke-width="2" stroke-dasharray="10 12"/>
<polyline points="0,768.8 9,767.0 19,770.8 28,774.2 38,773.0 47,781.8 57,770.8 66,769.0 76,765.5 85,760.5 95,759.5 104,759.5 114,753.0 123,754.5 133,755.8 142,755.5 152,751.2 161,749.5 171,755.5 180,756.2 190,755.8 199,752.5 209,758.8 218,757.5 228,755.8 237,753.2 247,753.2 256,746.0 266,755.5 275,752.5 285,756.8 294,757.5 304,756.2 313,756.2 323,757.0 332,777.5 342,781.0 351,769.0 361,770.0 370,773.5 380,768.8 389,760.5 399,759.0 408,761.5 418,767.5 427,763.8 437,764.5 446,769.2 456,766.8 465,766.8 475,773.8 484,780.5 494,777.5 503,785.8 513,785.2 522,788.2 532,772.5 541,770.2 551,773.5 560,756.5 570,759.5 579,760.8 589,759.5 598,754.0 608,760.0 617,754.5 627,760.2 636,760.2 646,760.2 655,756.5 665,753.5 674,749.0 684,742.0 693,739.5 703,730.0 712,730.0 722,739.5 731,737.5 741,731.2 750,729.2 760,726.5 769,745.2 779,744.2 788,746.0 798,752.0 807,751.0 817,753.2 826,746.2 836,745.8 845,747.0 855,744.0 864,742.0 874,755.8 883,749.2 893,751.2 902,758.0 912,752.5 921,752.2 931,753.0 940,753.2 950,756.8 959,753.5 969,740.0 978,738.0 988,735.8 997,720.0 1007,727.0 1016,723.0 1026,730.5 1035,748.2 1045,745.8 1054,743.5 1064,740.8 1073,750.8 1083,779.5 1092,785.0 1102,782.0 1111,779.5 1121,771.2 1130,772.0 1140,767.5 1149,773.8 1159,775.5 1168,770.5 1178,767.5 1187,770.8 1197,770.2 1206,779.5 1216,784.5 1225,780.0 1235,770.8 1244,772.5 1254,779.0 1263,767.0 1273,763.5 1282,764.5 1292,776.8 1301,773.8 1311,772.0 1320,774.0 1330,771.5 1339,763.0 1349,763.5 1358,760.0 1368,755.5 1377,757.2 1387,747.2 1396,754.5 1406,754.8 1415,753.5 1425,755.8 1434,759.5 1444,763.5 1453,759.2 1463,771.2 1472,765.0 1482,759.2 1491,760.0 1501,770.8 1510,780.0 1520,776.2 1529,772.0 1539,777.8 1548,772.2 1558,783.8 1567,786.1 1577,785.6 1586,788.9 1596,782.8 1605,786.1 1615,785.8 1624,787.8 1634,780.0 1643,779.7 1653,774.7 1662,776.4 1672,780.6 1681,781.7 1691,781.1 1700,780.0 1710,782.8 1719,781.1 1729,795.0 1739,804.2 1748,806.1 1758,806.7 1767,800.8 1777,812.2 1786,816.1 1796,818.9 1805,805.8 1815,805.6 1824,786.7 1834,788.9 1843,792.2 1853,801.7 1862,804.7 1872,805.0 1881,806.7 1891,811.9" fill="none" stroke="#7e57c2" stroke-width="2.3" stroke-linejoin="round"/>
<text x="2019.48" y="38" fill="#434651" stroke="#434651" stroke-width="0.4" font-size="30" textLength="116.55" lengthAdjust="spacingAndGlyphs" >5,400.00</text>
<text x="2019.48" y="135" fill="#434651" stroke="#434651" stroke-width="0.4" font-size="30" textLength="116.55" lengthAdjust="spacingAndGlyphs" >5,200.00</text>
<text x="2019.48" y="232" fill="#434651" stroke="#434651" stroke-width="0.4" font-size="30" textLength="116.55" lengthAdjust="spacingAndGlyphs" >5,000.00</text>
<text x="2019.48" y="329.3" fill="#434651" stroke="#434651" stroke-width="0.4" font-size="30" textLength="116.54" lengthAdjust="spacingAndGlyphs" >4,800.00</text>
<text x="2019.48" y="426" fill="#434651" stroke="#434651" stroke-width="0.4" font-size="30" textLength="116.54" lengthAdjust="spacingAndGlyphs" >4,600.00</text>
<text x="2019.48" y="523.7" fill="#434651" stroke="#434651" stroke-width="0.4" font-size="30" textLength="116.54" lengthAdjust="spacingAndGlyphs" >4,400.00</text>
<g><path d="M1999 214H2145Q2149 214 2149 218V254Q2149 258 2145 258H1999Z" fill="#ff9800"/>
<text x="2018.98" y="245" fill="#000" stroke="#000" stroke-width="0.4" font-size="30" textLength="117.03" lengthAdjust="spacingAndGlyphs" >4,975.40</text>
</g>
<g><path d="M1999 402H2145Q2149 402 2149 406V442Q2149 446 2145 446H1999Z" fill="#e91e63"/>
<text x="2018.98" y="433" fill="#fff" stroke="#fff" stroke-width="0.4" font-size="30" textLength="116.55" lengthAdjust="spacingAndGlyphs" >4,588.25</text>
</g>
<g><path d="M1999 511H2145Q2149 511 2149 515V551Q2149 555 2145 555H1999Z" fill="#e60000"/>
<text x="2018.98" y="542" fill="#fff" stroke="#fff" stroke-width="0.4" font-size="30" textLength="116.55" lengthAdjust="spacingAndGlyphs" >4,362.58</text>
</g>
<g><path d="M1999 631H2112.8Q2116.8 631 2116.8 635V668.4Q2116.8 672.4 2112.8 672.4H1999Z" fill="#ff5252"/>
<text x="2020.02" y="664" fill="#fff" stroke="#fff" stroke-width="0.4" font-size="30" textLength="84.27" lengthAdjust="spacingAndGlyphs" >-24.95</text>
</g>
<g clip-path="url(#cm)"><path d="M1999 672.4H2129.9Q2133.9 672.4 2133.9 676.4V706Q2133.9 710 2129.9 710H1999Z" fill="#ff6d00"/>
<text x="2019.98" y="707" fill="#fff" stroke="#fff" stroke-width="0.4" font-size="30" textLength="97.04" lengthAdjust="spacingAndGlyphs" >-114.51</text>
</g>
<rect x="1999" y="706" width="161" height="2" fill="#e0e3eb"/>
<g><path d="M1999 788H2102.8Q2106.8 788 2106.8 792V827Q2106.8 831 2102.8 831H1999Z" fill="#7e57c2"/>
<text x="2018.91" y="820.6" fill="#fff" stroke="#fff" stroke-width="0.4" font-size="30" textLength="74.04" lengthAdjust="spacingAndGlyphs" >16.76</text>
</g>
<text x="20.99" y="48.7" fill="#434651" stroke="#434651" stroke-width="0.4" font-size="30" textLength="562.02" lengthAdjust="spacingAndGlyphs" >Gold US Dollars per Ounce Spot Prices, 4h</text>
<text x="599.37" y="48.7" fill="#434651" stroke="#434651" stroke-width="0.4" font-size="30" textLength="20.92" lengthAdjust="spacingAndGlyphs" >O</text>
<text x="620.48" y="48.7" fill="#e60000" stroke="#e60000" stroke-width="0.4" font-size="30" textLength="115.55" lengthAdjust="spacingAndGlyphs" >4,464.83</text>
<text x="755.52" y="48.7" fill="#434651" stroke="#434651" stroke-width="0.4" font-size="30" textLength="18.96" lengthAdjust="spacingAndGlyphs" >H</text>
<text x="774.99" y="48.7" fill="#e60000" stroke="#e60000" stroke-width="0.4" font-size="30" textLength="115.52" lengthAdjust="spacingAndGlyphs" >4,473.24</text>
<text x="909.57" y="48.7" fill="#434651" stroke="#434651" stroke-width="0.4" font-size="30" textLength="13.71" lengthAdjust="spacingAndGlyphs" >L</text>
<text x="924.98" y="48.7" fill="#e60000" stroke="#e60000" stroke-width="0.4" font-size="30" textLength="116.03" lengthAdjust="spacingAndGlyphs" >4,319.98</text>
<text x="1058.35" y="48.7" fill="#434651" stroke="#434651" stroke-width="0.4" font-size="30" textLength="17.31" lengthAdjust="spacingAndGlyphs" >C</text>
<text x="1076.98" y="48.7" fill="#e60000" stroke="#e60000" stroke-width="0.4" font-size="30" textLength="116.03" lengthAdjust="spacingAndGlyphs" >4,362.58</text>
<text x="1211.98" y="48.7" fill="#e60000" stroke="#e60000" stroke-width="0.4" font-size="30" textLength="99.04" lengthAdjust="spacingAndGlyphs" >-102.38</text>
<text x="1322.94" y="48.7" fill="#e60000" stroke="#e60000" stroke-width="0.4" font-size="30" textLength="112.11" lengthAdjust="spacingAndGlyphs" >(−2.29%)</text>
<text x="19.98" y="91" fill="#434651" stroke="#434651" stroke-width="0.4" font-size="30" textLength="258.05" lengthAdjust="spacingAndGlyphs" >EMA (200, close, 0)</text>
<text x="296.98" y="91" fill="#ff9800" stroke="#ff9800" stroke-width="0.4" font-size="30" textLength="116.03" lengthAdjust="spacingAndGlyphs" >4,975.40</text>
<text x="19.98" y="658" fill="#434651" stroke="#434651" stroke-width="0.4" font-size="30" textLength="314.04" lengthAdjust="spacingAndGlyphs" >MACD (12, 26, close, 9)</text>
<text x="353.97" y="658" fill="#ff5252" stroke="#ff5252" stroke-width="0.4" font-size="30" textLength="83.05" lengthAdjust="spacingAndGlyphs" >-24.95</text>
<text x="456.98" y="658" fill="#2196f3" stroke="#2196f3" stroke-width="0.4" font-size="30" textLength="99.04" lengthAdjust="spacingAndGlyphs" >-139.46</text>
<text x="575.98" y="658" fill="#ff6d00" stroke="#ff6d00" stroke-width="0.4" font-size="30" textLength="96.04" lengthAdjust="spacingAndGlyphs" >-114.51</text>
<text x="19.94" y="755.5" fill="#434651" stroke="#434651" stroke-width="0.4" font-size="30" textLength="103.14" lengthAdjust="spacingAndGlyphs" >RSI (14)</text>
<text x="142.91" y="755.5" fill="#7e57c2" stroke="#7e57c2" stroke-width="0.4" font-size="30" textLength="72.14" lengthAdjust="spacingAndGlyphs" >16.76</text>
<text x="48.23" y="877" fill="#434651" stroke="#434651" stroke-width="0.4" font-size="30" textLength="16.87" lengthAdjust="spacingAndGlyphs" >6</text>
<text x="278.04" y="877" fill="#434651" stroke="#434651" stroke-width="0.4" font-size="30" textLength="31.48" lengthAdjust="spacingAndGlyphs" >12</text>
<text x="515.27" y="877" fill="#434651" stroke="#434651" stroke-width="0.4" font-size="30" textLength="32.35" lengthAdjust="spacingAndGlyphs" >18</text>
<text x="752.53" y="877" fill="#434651" stroke="#434651" stroke-width="0.4" font-size="30" textLength="32.95" lengthAdjust="spacingAndGlyphs" >24</text>
<text x="968.92" y="877" fill="#434651" stroke="#434651" stroke-width="1.2" font-size="30" textLength="53.1" lengthAdjust="spacingAndGlyphs" >Mar</text>
<text x="1226.53" y="877" fill="#434651" stroke="#434651" stroke-width="0.4" font-size="30" textLength="16.87" lengthAdjust="spacingAndGlyphs" >6</text>
<text x="1455.84" y="877" fill="#434651" stroke="#434651" stroke-width="0.4" font-size="30" textLength="31.48" lengthAdjust="spacingAndGlyphs" >12</text>
<text x="1693.27" y="877" fill="#434651" stroke="#434651" stroke-width="0.4" font-size="30" textLength="32.35" lengthAdjust="spacingAndGlyphs" >18</text>
<text x="1930.23" y="877" fill="#434651" stroke="#434651" stroke-width="0.4" font-size="30" textLength="32.95" lengthAdjust="spacingAndGlyphs" >24</text>
<g fill="#eef0f5"><rect x="0" y="0" width="2160" height="2"/><rect x="0" y="900" width="2160" height="2"/><rect x="0" y="0" width="2" height="902"/><rect x="2158" y="0" width="2" height="902"/></g>
<rect x="1" y="218" width="2.2" height="63.7" fill="#e60000"/>
</svg>
</body></html>
